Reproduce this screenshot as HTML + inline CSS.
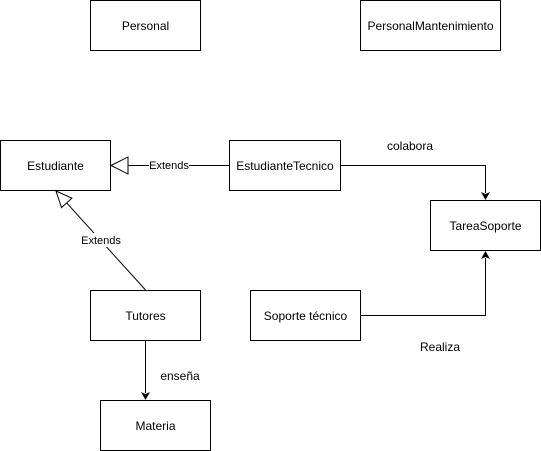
<!DOCTYPE html>
<html><head><meta charset="utf-8"><style>
html,body{margin:0;padding:0;background:#fff;}
svg{display:block;font-family:"Liberation Sans",Helvetica,Arial,sans-serif;}
</style></head><body>
<svg width="541" height="451" viewBox="0 0 541 451" xmlns="http://www.w3.org/2000/svg">
<g fill="#fff" stroke="#000" stroke-width="1">
<rect x="90.5" y="0.5" width="110" height="50"/>
<rect x="360.5" y="0.5" width="140" height="50"/>
<rect x="0.5" y="140.5" width="110" height="50"/>
<rect x="229.5" y="140.5" width="111" height="50"/>
<rect x="430.5" y="200.5" width="110" height="50"/>
<rect x="90.5" y="290.5" width="110" height="50"/>
<rect x="250.5" y="290.5" width="110" height="50"/>
<rect x="100.5" y="400.5" width="110" height="50"/>
</g>
<g fill="none" stroke="#000" stroke-width="1">
<line x1="128" y1="165.5" x2="229" y2="165.5"/>
<polygon points="111,165.5 128,157 128,174" fill="#fff"/>
<line x1="145.5" y1="290" x2="66.7" y2="202.9"/>
<polygon points="56,191 71.9,198.2 61.5,207.6" fill="#fff"/>
<polyline points="341,165.5 485.5,165.5 485.5,193"/>
<polyline points="361,315.5 485.5,315.5 485.5,258"/>
<line x1="145.5" y1="341" x2="145.5" y2="393"/>
</g>
<g fill="#000">
<polygon points="481,192 485.5,200 490,192 485.5,194"/>
<polygon points="481,259 485.5,251 490,259 485.5,257"/>
<polygon points="141,392 145.5,400 150,392 145.5,394"/>
</g>
<rect x="149" y="158" width="40" height="14" fill="#fff"/>
<rect x="79" y="233" width="44" height="14" fill="#fff"/>
<g font-size="12" text-anchor="middle" fill="#000">
<text x="145.5" y="30">Personal</text>
<text x="430.5" y="30">PersonalMantenimiento</text>
<text x="55.5" y="170">Estudiante</text>
<text x="285" y="170">EstudianteTecnico</text>
<text x="485.5" y="230">TareaSoporte</text>
<text x="145.5" y="320">Tutores</text>
<text x="305.5" y="320">Soporte técnico</text>
<text x="155.5" y="430">Materia</text>
<text x="410" y="150">colabora</text>
<text x="440" y="351">Realiza</text>
<text x="180" y="380">enseña</text>
</g>
<g font-size="11" text-anchor="middle" fill="#000">
<text x="169" y="169">Extends</text>
<text x="101" y="244">Extends</text>
</g>
</svg>
</body></html>
